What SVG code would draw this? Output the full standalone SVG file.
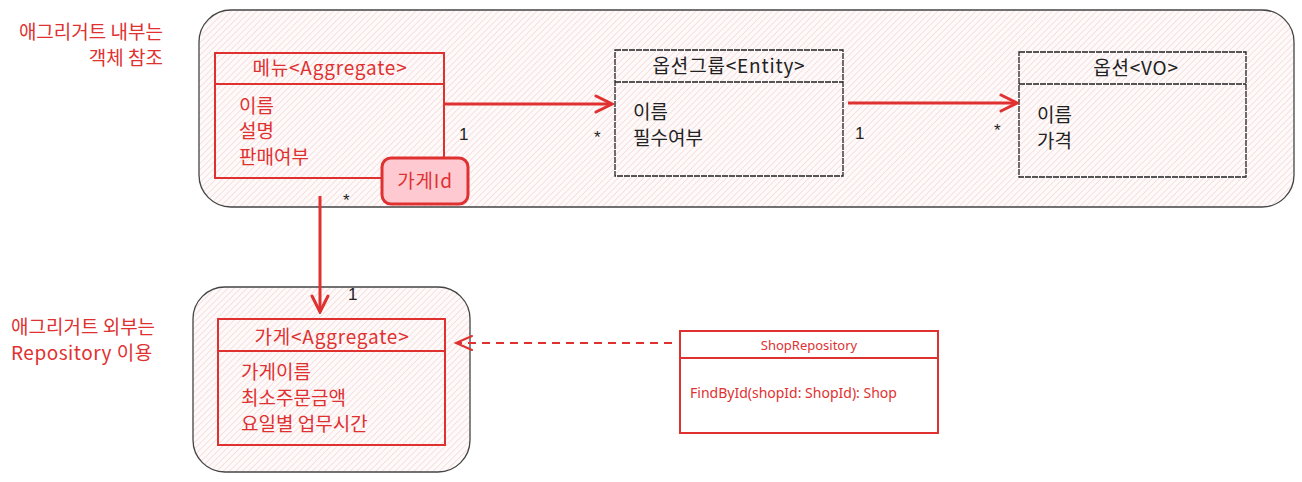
<svg xmlns="http://www.w3.org/2000/svg" width="1302" height="482" viewBox="0 0 1302 482">
<defs>
<pattern id="hatch" width="4.5" height="4.5" patternUnits="userSpaceOnUse" patternTransform="rotate(45)">
<rect width="4.5" height="4.5" fill="#fefafa"/>
<line x1="0" y1="0" x2="0" y2="4.5" stroke="#f2cfd1" stroke-width="1.2"/>
</pattern>
<marker id="open" viewBox="0 0 20 20" refX="18" refY="10" markerWidth="20" markerHeight="20" markerUnits="userSpaceOnUse" orient="auto">
<path d="M2,2 L18,10 L2,18" fill="none" stroke="#e03131" stroke-width="3" stroke-linecap="round"/>
</marker>
<marker id="openThin" viewBox="0 0 20 20" refX="18" refY="10" markerWidth="20" markerHeight="20" markerUnits="userSpaceOnUse" orient="auto">
<path d="M2,3 L18,10 L2,17" fill="none" stroke="#e03131" stroke-width="2" stroke-linecap="round"/>
</marker>
</defs>
<style>
.container{fill:url(#hatch);stroke:#444;stroke-width:1.3}
.redbox{fill:none;stroke:#e03131;stroke-width:2}
.blackbox{fill:none;stroke:#222;stroke-width:1.3;stroke-dasharray:6 1}
.t{font-family:"Noto Sans CJK KR","Noto Sans",sans-serif;font-size:19px}
.red{fill:#e03131}
.blk{fill:#222}
.title{text-anchor:middle;letter-spacing:0.8px}
.lab{font-family:"Liberation Sans",sans-serif;font-size:17px;fill:#222}
</style>
<rect width="1302" height="482" fill="#ffffff"/>

<g id="inner-container"><rect class="container" x="199" y="10" width="1095" height="197" rx="32"/></g>
<g id="outer-container"><rect class="container" x="193" y="287" width="277" height="185" rx="32"/></g>

<g id="label-inner">
<text class="t red" x="163" y="39" text-anchor="end">애그리거트 내부는</text>
<text class="t red" x="163" y="65" text-anchor="end">객체 참조</text>
</g>
<g id="label-outer">
<text class="t red" x="11" y="334">애그리거트 외부는</text>
<text class="t red" x="11" y="360" letter-spacing="0.5">Repository 이용</text>
</g>

<g id="menu">
<rect class="redbox" x="215" y="53" width="229" height="125"/>
<line class="redbox" x1="215" y1="84" x2="444" y2="84"/>
<text class="t red title" x="330" y="75">메뉴&lt;Aggregate&gt;</text>
<text class="t red" x="239" y="113">이름</text>
<text class="t red" x="239" y="138">설명</text>
<text class="t red" x="239" y="164">판매여부</text>
</g>

<g id="shopid">
<rect x="382" y="158" width="86" height="46" rx="9" fill="#ffc9d1" stroke="#e03131" stroke-width="3"/>
<text class="t red title" x="425" y="188">가게Id</text>
</g>

<g id="optiongroup">
<rect class="blackbox" x="615" y="50" width="228" height="126"/>
<line class="blackbox" x1="615" y1="82" x2="843" y2="82"/>
<text class="t blk title" x="729" y="73">옵션그룹&lt;Entity&gt;</text>
<text class="t blk" x="633" y="119">이름</text>
<text class="t blk" x="633" y="145">필수여부</text>
</g>

<g id="option">
<rect class="blackbox" x="1019" y="52" width="227" height="125"/>
<line class="blackbox" x1="1019" y1="84" x2="1246" y2="84"/>
<text class="t blk title" x="1136" y="75">옵션&lt;VO&gt;</text>
<text class="t blk" x="1037" y="122">이름</text>
<text class="t blk" x="1037" y="148">가격</text>
</g>

<g id="shop">
<rect class="redbox" x="218" y="319" width="227" height="126"/>
<line class="redbox" x1="218" y1="351" x2="445" y2="351"/>
<text class="t red title" x="332" y="344">가게&lt;Aggregate&gt;</text>
<text class="t red" x="241" y="379">가게이름</text>
<text class="t red" x="241" y="405">최소주문금액</text>
<text class="t red" x="241" y="431">요일별 업무시간</text>
</g>

<g id="shoprepository">
<rect x="680" y="331" width="258" height="102" fill="#ffffff" stroke="#e03131" stroke-width="2"/>
<line x1="680" y1="358" x2="938" y2="358" stroke="#e03131" stroke-width="2"/>
<text class="red" x="809" y="350" text-anchor="middle" font-family="Noto Sans, sans-serif" font-size="13">ShopRepository</text>
<text class="red" x="690" y="398" font-family="Noto Sans, sans-serif" font-size="14">FindById(shopId: ShopId): Shop</text>
</g>

<g id="connectors">
<line x1="444" y1="104" x2="612" y2="104" stroke="#e03131" stroke-width="3" marker-end="url(#open)"/>
<line x1="848" y1="103" x2="1017" y2="103" stroke="#e03131" stroke-width="3" marker-end="url(#open)"/>
<line x1="320" y1="196" x2="320" y2="312" stroke="#e03131" stroke-width="3" marker-end="url(#open)"/>
<line x1="672" y1="343" x2="456" y2="343" stroke="#e03131" stroke-width="2" stroke-dasharray="8 6" marker-end="url(#openThin)"/>
<text class="lab" x="459" y="140">1</text>
<text class="lab" x="594" y="143">*</text>
<text class="lab" x="855" y="139">1</text>
<text class="lab" x="994" y="136">*</text>
<text class="lab" x="343" y="206">*</text>
<text class="lab" x="348" y="300">1</text>
</g>
</svg>
